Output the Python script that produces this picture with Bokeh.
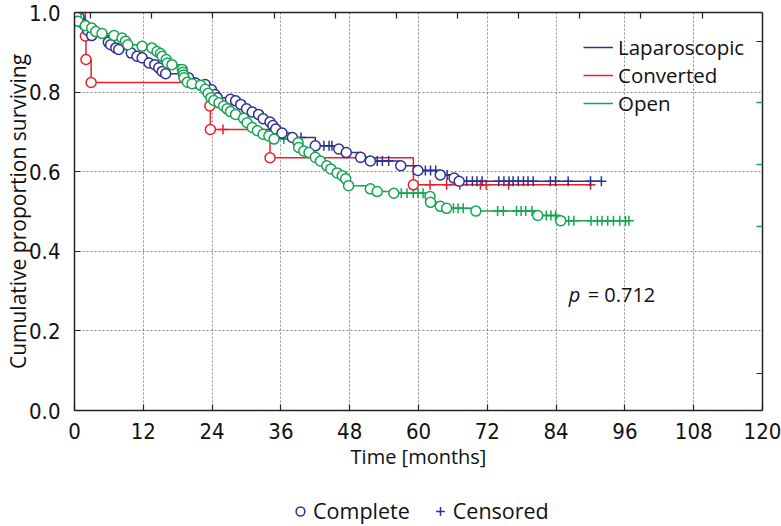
from bokeh.plotting import figure
from bokeh.layouts import column
from bokeh.models import (Range1d, LinearAxis, FixedTicker, Legend, LegendItem, Label)
from bokeh.embed import file_html
from bokeh.resources import INLINE

# ---------------- data ----------------
groups = ["Laparoscopic", "Converted", "Open"]
group_colors = ["#2e3192", "#e8202a", "#13a553"]

lap_event_t = [0.8, 1.7, 2.3, 3.0, 5.9, 6.3, 7.2, 7.7, 9.9, 10.9, 11.8, 13.0, 14.0, 14.7, 15.3, 15.9,
               19.9, 21.1, 22.8, 23.9, 24.5, 24.9, 27.2, 28.1, 29.0, 30.0, 31.0, 32.1, 32.9, 34.1,
               34.6, 35.1, 36.2, 38.0, 42.0, 46.1, 47.4, 49.9, 51.6, 56.9, 59.9, 63.8, 66.2, 67.1]
lap_event_s = [0.988, 0.969, 0.955, 0.942, 0.925, 0.919, 0.911, 0.907, 0.898, 0.890, 0.886, 0.873,
               0.869, 0.861, 0.852, 0.846, 0.836, 0.823, 0.819, 0.806, 0.794, 0.786, 0.782, 0.778,
               0.769, 0.758, 0.750, 0.744, 0.733, 0.725, 0.716, 0.707, 0.697, 0.686, 0.665, 0.657,
               0.648, 0.636, 0.627, 0.615, 0.603, 0.592, 0.584, 0.576]
lap_cens_t = [39.5, 43.5, 44.4, 44.9, 52.8, 53.7, 54.8, 61.2, 62.1, 63.0, 65.0, 68.4, 69.4, 70.2,
              71.1, 74.0, 74.9, 75.8, 76.5, 77.4, 78.3, 79.1, 80.0, 83.0, 83.9, 86.1, 90.0, 91.9]

conv_event_t = [1.9, 2.0, 2.9, 23.6, 23.7, 34.1, 59.1]
conv_event_s = [0.941, 0.882, 0.824, 0.765, 0.706, 0.635, 0.567]
conv_cens_t = [25.9, 62.0, 64.9, 67.2, 70.8, 71.8, 75.7, 90.0]

open_event_t = [0.3, 0.6, 1.9, 3.0, 3.7, 4.8, 6.9, 8.3, 8.9, 9.3, 11.8, 13.5, 14.4, 15.0, 15.3, 16.0,
                16.2, 17.0, 18.8, 18.9, 19.0, 19.1, 19.7, 20.5, 22.0, 22.8, 23.3, 23.8, 24.3, 25.2,
                26.0, 26.6, 27.2, 28.1, 29.5, 30.1, 31.0, 31.9, 32.9, 33.9, 34.8, 39.0, 39.1, 40.0,
                40.9, 42.0, 42.9, 44.0, 44.7, 45.8, 46.7, 47.3, 47.8, 51.6, 52.8, 55.7, 62.0, 62.1,
                63.8, 64.9, 70.0, 80.8, 84.8]
open_event_s = [0.990, 0.978, 0.967, 0.961, 0.952, 0.947, 0.942, 0.936, 0.928, 0.919, 0.915, 0.911,
                0.902, 0.897, 0.890, 0.882, 0.873, 0.869, 0.857, 0.850, 0.843, 0.836, 0.825, 0.821,
                0.817, 0.807, 0.797, 0.786, 0.779, 0.773, 0.765, 0.758, 0.751, 0.744, 0.734, 0.723,
                0.711, 0.703, 0.694, 0.690, 0.682, 0.673, 0.661, 0.652, 0.648, 0.636, 0.627, 0.615,
                0.607, 0.597, 0.590, 0.582, 0.565, 0.557, 0.550, 0.546, 0.538, 0.523, 0.513, 0.508,
                0.501, 0.490, 0.477]
open_cens_t = [36.5, 57.0, 58.0, 59.1, 59.9, 60.8, 66.1, 66.9, 67.8, 73.8, 74.8, 77.1, 77.9, 78.7,
               79.8, 82.3, 83.1, 83.9, 86.2, 87.1, 90.1, 91.2, 92.0, 93.0, 94.0, 95.1, 96.1, 96.7]

x_ticks = [0, 12, 24, 36, 48, 60, 72, 84, 96, 108, 120]
y_ticks = [0.0, 0.2, 0.4, 0.6, 0.8, 1.0]
y_tick_labels = {0.0: "0.0", 0.2: "0.2", 0.4: "0.4", 0.6: "0.6", 0.8: "0.8", 1.0: "1.0"}
top_ticks = [2.8, 13.4, 24.1, 34.9, 45.5, 56.2, 66.8, 77.5, 88.1, 98.8, 109.6]
right_ticks_black = [0.926, 0.0935]
right_ticks_green = [0.773, 0.618, 0.463]
p_value_text = "= 0.712"

x_label = "Time [months]"
y_label = "Cumulative proportion surviving"
marker_labels = ["Complete", "Censored"]

# ---------------- figure ----------------
TICK_FONT = "'Liberation Sans Narrow', 'DejaVu Sans Condensed', sans-serif"
TEXT_FONT = "Open Sans"
INK = "#111111"

p = figure(width=781, height=490, x_range=Range1d(0, 120), y_range=Range1d(0, 1),
           output_backend="svg", toolbar_location=None,
           min_border_left=74, min_border_right=19, min_border_top=12, min_border_bottom=80)
p.outline_line_color = None
p.background_fill_color = "white"

for ax in (p.xaxis[0], p.yaxis[0]):
    ax.axis_line_width = 1.5
    ax.axis_line_color = "#222222"
    ax.major_tick_in = 6
    ax.major_tick_out = 0
    ax.major_tick_line_color = "#222222"
    ax.major_tick_line_width = 1.2
    ax.minor_tick_line_color = None
    ax.major_label_text_font = TICK_FONT
    ax.major_label_text_font_size = "22px"
    ax.major_label_text_color = INK
    ax.axis_label_text_font = TEXT_FONT
    ax.axis_label_text_font_style = "normal"
    ax.axis_label_text_color = INK

p.xaxis[0].ticker = FixedTicker(ticks=x_ticks)
p.xaxis[0].major_label_standoff = 12
p.xaxis[0].axis_label = x_label
p.xaxis[0].axis_label_standoff = 1
p.xaxis[0].axis_label_text_font_size = "20px"
p.yaxis[0].ticker = FixedTicker(ticks=y_ticks)
p.yaxis[0].major_label_overrides = y_tick_labels
p.yaxis[0].major_label_standoff = 14
p.yaxis[0].axis_label = y_label
p.yaxis[0].axis_label_standoff = -6
p.yaxis[0].axis_label_text_font_size = "21px"

p.xgrid.ticker = FixedTicker(ticks=x_ticks)
p.ygrid.ticker = FixedTicker(ticks=y_ticks)
for g in (p.xgrid[0], p.ygrid[0]):
    g.grid_line_color = "#8a8a8a"
    g.grid_line_dash = "2 2"
    g.grid_line_width = 1

top_axis = LinearAxis(ticker=FixedTicker(ticks=top_ticks), major_label_text_font_size="1px",
                      major_label_text_color=None, major_label_standoff=0,
                      major_tick_in=6, major_tick_out=0,
                      axis_line_width=1.5, axis_line_color="#222222",
                      major_tick_line_color="#222222", major_tick_line_width=1.2,
                      minor_tick_line_color=None)
p.add_layout(top_axis, "above")

right_axis = LinearAxis(ticker=FixedTicker(ticks=right_ticks_black, minor_ticks=right_ticks_green),
                        major_label_text_font_size="1px", major_label_text_color=None,
                        major_label_standoff=0,
                        major_tick_in=6, major_tick_out=0,
                        minor_tick_in=6, minor_tick_out=0,
                        minor_tick_line_color=group_colors[2], minor_tick_line_width=1.5,
                        axis_line_width=1.5, axis_line_color="#222222",
                        major_tick_line_color="#222222", major_tick_line_width=1.2)
p.add_layout(right_axis, "right")


def step_level(event_t, event_s, t):
    level = 1.0
    for et, es in zip(event_t, event_s):
        if et <= t:
            level = es
    return level


series = [
    (lap_event_t, lap_event_s, lap_cens_t),
    (conv_event_t, conv_event_s, conv_cens_t),
    (open_event_t, open_event_s, open_cens_t),
]

line_renderers = {}
draw_order = [1, 0, 2]
for i in draw_order:
    et, es, ct = series[i]
    end = max(max(ct), max(et))
    xs = [0.0] + list(et) + [end]
    ys = [1.0] + list(es) + [es[-1]]
    line_renderers[i] = p.step(x=xs, y=ys, mode="after", line_color=group_colors[i], line_width=1.5)

for i in draw_order:
    et, es, ct = series[i]
    cy = [step_level(et, es, c) for c in ct]
    p.scatter(x=ct, y=cy, marker="cross", size=10, line_color=group_colors[i], line_width=1.5)

for i in draw_order:
    et, es, ct = series[i]
    p.scatter(x=et, y=es, marker="circle", size=10, line_color=group_colors[i],
              fill_color="white", line_width=1.5)

legend_groups = Legend(
    items=[LegendItem(label=groups[i], renderers=[line_renderers[i]]) for i in range(3)],
    location=(509, 293), orientation="vertical",
    glyph_width=30, glyph_height=28, label_height=28, spacing=0, padding=0, margin=0,
    label_standoff=5, border_line_color=None, background_fill_alpha=0,
    label_text_font=TEXT_FONT, label_text_font_size="20.5px", label_text_color=INK)
p.add_layout(legend_groups)

p.add_layout(Label(x=86.2, y=0.291, text="p", text_font=TEXT_FONT, text_font_size="20px",
                   text_font_style="italic", text_baseline="middle", text_color=INK))
p.add_layout(Label(x=89.5, y=0.291, text=p_value_text, text_font=TEXT_FONT, text_font_size="20px",
                   text_baseline="middle", text_color=INK))

# ---------------- marker key strip below the chart ----------------
k = figure(width=781, height=36, x_range=Range1d(0, 120), y_range=Range1d(2, 3),
           output_backend="svg", toolbar_location=None, x_axis_type=None, y_axis_type=None,
           min_border_left=0, min_border_right=0, min_border_top=0, min_border_bottom=0)
k.outline_line_color = None
k.xgrid.visible = False
k.ygrid.visible = False
# proxies: same Laparoscopic series, outside this strip's visible range
key_circle = k.scatter(x=lap_event_t, y=lap_event_s, marker="circle", size=10,
                       line_color=group_colors[0], fill_color="white", line_width=1.5)
lap_cens_y = [step_level(lap_event_t, lap_event_s, c) for c in lap_cens_t]
key_cross = k.scatter(x=lap_cens_t, y=lap_cens_y, marker="cross", size=10,
                      line_color=group_colors[0], line_width=1.5)
legend_marks = Legend(
    items=[LegendItem(label=marker_labels[0], renderers=[key_circle]),
           LegendItem(label=marker_labels[1], renderers=[key_cross])],
    location=(215, 1), orientation="horizontal",
    glyph_width=22, glyph_height=22, label_height=22, spacing=19, padding=0, margin=0,
    label_standoff=2, border_line_color=None, background_fill_alpha=0,
    label_text_font=TEXT_FONT, label_text_font_size="21.5px", label_text_color=INK)
k.add_layout(legend_marks)

layout = column(p, k, spacing=0)
open("out.html", "w").write(file_html(layout, INLINE))
